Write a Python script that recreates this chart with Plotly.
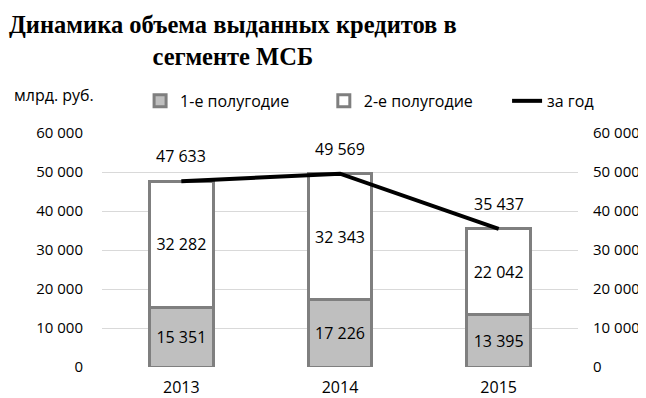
import plotly.graph_objects as go

years = ["2013", "2014", "2015"]
half1 = [15351, 17226, 13395]
half2 = [32282, 32343, 22042]
total = [47633, 49569, 35437]
tick_vals = [0, 10000, 20000, 30000, 40000, 50000, 60000]

def fmt(v):
    return f"{v:,}".replace(",", " ")

tick_text = [fmt(v) for v in tick_vals]
FONT = "Open Sans"
FS = 16
TFS = 15

fig = go.Figure()
fig.add_trace(go.Bar(
    x=years, y=half1, name="1-е полугодие", legend="legend",
    marker=dict(color="#bfbfbf", line=dict(color="#7f7f7f", width=3)),
    text=[fmt(v) for v in half1], textposition="inside", insidetextanchor="middle",
    textfont=dict(family=FONT, size=FS, color="black"),
))
fig.add_trace(go.Bar(
    x=years, y=half2, name="2-е полугодие", legend="legend2",
    marker=dict(color="white", line=dict(color="#7f7f7f", width=3)),
    text=[fmt(v) for v in half2], textposition="inside", insidetextanchor="middle",
    textfont=dict(family=FONT, size=FS, color="black"),
))
fig.add_trace(go.Scatter(
    x=years, y=total, name="за год", mode="lines", legend="legend3",
    line=dict(color="black", width=4),
))
# invisible trace so that the right-hand axis is drawn
fig.add_trace(go.Scatter(x=years, y=total, yaxis="y2", mode="lines",
                         line=dict(width=0, color="rgba(0,0,0,0)"),
                         showlegend=False, hoverinfo="skip"))

for i, v in enumerate(total):
    fig.add_annotation(x=i, y=v, xref="x", yref="y", text=fmt(v), showarrow=False,
                       yshift=25, font=dict(family=FONT, size=FS, color="black"))

fig.add_annotation(xref="paper", yref="paper", x=-0.19, y=1.162, xanchor="left",
                   yanchor="middle", text="млрд. руб.", showarrow=False,
                   font=dict(family=FONT, size=FS, color="black"))

fig.add_annotation(xref="paper", yref="paper", x=0.275, y=1.53, xanchor="center",
                   yanchor="top", showarrow=False,
                   text="<b>Динамика объема выданных кредитов в<br>сегменте МСБ</b>",
                   font=dict(family="Liberation Serif", size=24.5, color="black"))

axis_common = dict(range=[0, 60000], tickvals=tick_vals, ticktext=tick_text,
                   tickfont=dict(family=FONT, size=TFS, color="black"),
                   showline=False, zeroline=False, fixedrange=True)

legend_common = dict(orientation="h", y=1.137, xanchor="left", yanchor="middle",
                     font=dict(family=FONT, size=FS, color="black"),
                     bgcolor="rgba(0,0,0,0)")

# page body has an 8px default margin, so the figure is made 8px smaller
fig.update_layout(
    width=638, height=390,
    margin=dict(l=94, r=68, t=125, b=31, autoexpand=False),
    paper_bgcolor="white", plot_bgcolor="white",
    barmode="stack", bargap=0.6,
    xaxis=dict(type="category", range=[-0.5, 2.5],
               tickfont=dict(family=FONT, size=FS, color="black"),
               showgrid=False, showline=False, ticks="", ticklabelstandoff=9),
    yaxis=dict(**axis_common, showgrid=True, gridcolor="#d9d9d9", gridwidth=1,
               ticklabelstandoff=18),
    yaxis2=dict(**axis_common, overlaying="y", side="right", showgrid=False,
                ticklabelstandoff=14),
    legend=dict(**legend_common, x=0.080),
    legend2=dict(**legend_common, x=0.466),
    legend3=dict(**legend_common, x=0.851),
    showlegend=True,
)

fig.write_html("out.html")
